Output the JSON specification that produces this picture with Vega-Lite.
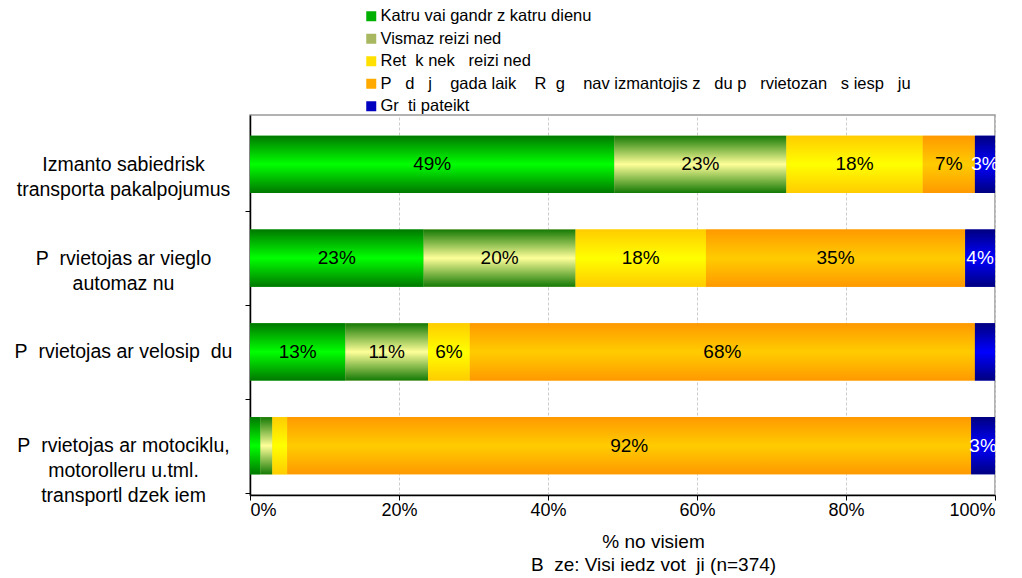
{
  "$schema": "https://vega.github.io/schema/vega-lite/v6.json",
  "autosize": {"type": "none"},
  "width": 745,
  "height": 380,
  "padding": {"left": 250, "top": 115, "right": 27, "bottom": 83},
  "background": "white",
  "config": {
    "view": {"stroke": "#999999", "strokeWidth": 1.5},
    "font": "Liberation Sans",
    "axis": {"domainColor": "#000000", "domainWidth": 1.5, "tickColor": "#000000", "tickWidth": 1, "labelColor": "#000000", "titleColor": "#000000"}
  },
  "data": {
    "values": [
      {"cat": "Izmanto sabiedrisk\u00a0\u00a0|transporta pakalpojumus", "resp": "Katru vai gandr\u00a0z katru dienu", "k": 1, "v": 48.9, "lab": "49%"},
      {"cat": "Izmanto sabiedrisk\u00a0\u00a0|transporta pakalpojumus", "resp": "Vismaz reizi ned", "k": 2, "v": 23.1, "lab": "23%"},
      {"cat": "Izmanto sabiedrisk\u00a0\u00a0|transporta pakalpojumus", "resp": "Ret\u00a0\u00a0k nek\u00a0\u00a0\u00a0reizi ned", "k": 3, "v": 18.3, "lab": "18%"},
      {"cat": "Izmanto sabiedrisk\u00a0\u00a0|transporta pakalpojumus", "resp": "P\u00a0\u00a0\u00a0d\u00a0\u00a0\u00a0j\u00a0\u00a0\u00a0\u00a0gada laik\u00a0\u00a0\u00a0\u00a0R\u00a0\u00a0g\u00a0\u00a0\u00a0\u00a0nav izmantojis z\u00a0\u00a0\u00a0du p\u00a0\u00a0\u00a0rvietozan\u00a0\u00a0\u00a0s iesp\u00a0\u00a0\u00a0ju", "k": 4, "v": 7.0, "lab": "7%"},
      {"cat": "Izmanto sabiedrisk\u00a0\u00a0|transporta pakalpojumus", "resp": "Gr\u00a0\u00a0ti pateikt", "k": 5, "v": 2.7, "lab": "3%"},
      {"cat": "P\u00a0\u00a0rvietojas ar vieglo|automaz\u00a0nu", "resp": "Katru vai gandr\u00a0z katru dienu", "k": 1, "v": 23.3, "lab": "23%"},
      {"cat": "P\u00a0\u00a0rvietojas ar vieglo|automaz\u00a0nu", "resp": "Vismaz reizi ned", "k": 2, "v": 20.4, "lab": "20%"},
      {"cat": "P\u00a0\u00a0rvietojas ar vieglo|automaz\u00a0nu", "resp": "Ret\u00a0\u00a0k nek\u00a0\u00a0\u00a0reizi ned", "k": 3, "v": 17.5, "lab": "18%"},
      {"cat": "P\u00a0\u00a0rvietojas ar vieglo|automaz\u00a0nu", "resp": "P\u00a0\u00a0\u00a0d\u00a0\u00a0\u00a0j\u00a0\u00a0\u00a0\u00a0gada laik\u00a0\u00a0\u00a0\u00a0R\u00a0\u00a0g\u00a0\u00a0\u00a0\u00a0nav izmantojis z\u00a0\u00a0\u00a0du p\u00a0\u00a0\u00a0rvietozan\u00a0\u00a0\u00a0s iesp\u00a0\u00a0\u00a0ju", "k": 4, "v": 34.8, "lab": "35%"},
      {"cat": "P\u00a0\u00a0rvietojas ar vieglo|automaz\u00a0nu", "resp": "Gr\u00a0\u00a0ti pateikt", "k": 5, "v": 4.0, "lab": "4%"},
      {"cat": "P\u00a0\u00a0rvietojas ar velosip\u00a0\u00a0du", "resp": "Katru vai gandr\u00a0z katru dienu", "k": 1, "v": 12.8, "lab": "13%"},
      {"cat": "P\u00a0\u00a0rvietojas ar velosip\u00a0\u00a0du", "resp": "Vismaz reizi ned", "k": 2, "v": 11.1, "lab": "11%"},
      {"cat": "P\u00a0\u00a0rvietojas ar velosip\u00a0\u00a0du", "resp": "Ret\u00a0\u00a0k nek\u00a0\u00a0\u00a0reizi ned", "k": 3, "v": 5.6, "lab": "6%"},
      {"cat": "P\u00a0\u00a0rvietojas ar velosip\u00a0\u00a0du", "resp": "P\u00a0\u00a0\u00a0d\u00a0\u00a0\u00a0j\u00a0\u00a0\u00a0\u00a0gada laik\u00a0\u00a0\u00a0\u00a0R\u00a0\u00a0g\u00a0\u00a0\u00a0\u00a0nav izmantojis z\u00a0\u00a0\u00a0du p\u00a0\u00a0\u00a0rvietozan\u00a0\u00a0\u00a0s iesp\u00a0\u00a0\u00a0ju", "k": 4, "v": 67.8, "lab": "68%"},
      {"cat": "P\u00a0\u00a0rvietojas ar velosip\u00a0\u00a0du", "resp": "Gr\u00a0\u00a0ti pateikt", "k": 5, "v": 2.7, "lab": ""},
      {"cat": "P\u00a0\u00a0rvietojas ar motociklu,|motorolleru u.tml.|transportl\u00a0dzek\u00a0iem", "resp": "Katru vai gandr\u00a0z katru dienu", "k": 1, "v": 1.4, "lab": ""},
      {"cat": "P\u00a0\u00a0rvietojas ar motociklu,|motorolleru u.tml.|transportl\u00a0dzek\u00a0iem", "resp": "Vismaz reizi ned", "k": 2, "v": 1.6, "lab": ""},
      {"cat": "P\u00a0\u00a0rvietojas ar motociklu,|motorolleru u.tml.|transportl\u00a0dzek\u00a0iem", "resp": "Ret\u00a0\u00a0k nek\u00a0\u00a0\u00a0reizi ned", "k": 3, "v": 2.0, "lab": ""},
      {"cat": "P\u00a0\u00a0rvietojas ar motociklu,|motorolleru u.tml.|transportl\u00a0dzek\u00a0iem", "resp": "P\u00a0\u00a0\u00a0d\u00a0\u00a0\u00a0j\u00a0\u00a0\u00a0\u00a0gada laik\u00a0\u00a0\u00a0\u00a0R\u00a0\u00a0g\u00a0\u00a0\u00a0\u00a0nav izmantojis z\u00a0\u00a0\u00a0du p\u00a0\u00a0\u00a0rvietozan\u00a0\u00a0\u00a0s iesp\u00a0\u00a0\u00a0ju", "k": 4, "v": 91.8, "lab": "92%"},
      {"cat": "P\u00a0\u00a0rvietojas ar motociklu,|motorolleru u.tml.|transportl\u00a0dzek\u00a0iem", "resp": "Gr\u00a0\u00a0ti pateikt", "k": 5, "v": 3.2, "lab": "3%"}
    ]
  },
  "transform": [
    {"stack": "v", "groupby": ["cat"], "sort": [{"field": "k", "order": "ascending"}], "as": ["x0", "x1"]},
    {"calculate": "(datum.x0 + datum.x1) / 2", "as": "xm"}
  ],
  "encoding": {
    "y": {
      "field": "cat", "type": "nominal",
      "sort": ["Izmanto sabiedrisk\u00a0\u00a0|transporta pakalpojumus", "P\u00a0\u00a0rvietojas ar vieglo|automaz\u00a0nu", "P\u00a0\u00a0rvietojas ar velosip\u00a0\u00a0du", "P\u00a0\u00a0rvietojas ar motociklu,|motorolleru u.tml.|transportl\u00a0dzek\u00a0iem"],
      "scale": {"paddingInner": 0.39, "paddingOuter": 0.22},
      "axis": {
        "title": null,
        "labelExpr": "split(datum.label, '|')",
        "labelAlign": "center",
        "labelBaseline": "middle",
        "labelFont": "Liberation Sans",
        "labelFontSize": 19.5,
        "labelLineHeight": 25,
        "labelLimit": 400,
        "labelPadding": 122,
        "tickSize": 5,
        "tickOffset": 46.9,
        "labelOffset": -46.9,
        "grid": false,
        "encode": {
          "labels": {
            "update": {
              "dx": {"signal": "indexof(datum.value, 'vieglo') >= 0 ? 20 : 0"}
            }
          }
        }
      }
    }
  },
  "layer": [
    {
      "mark": {"type": "bar"},
      "encoding": {
        "x": {
          "field": "x0", "type": "quantitative",
          "scale": {"domain": [0, 100], "nice": false},
          "axis": {
            "values": [0, 20, 40, 60, 80, 100],
            "labelExpr": "datum.value + '%'",
            "labelFont": "Liberation Sans",
            "labelFontSize": 18,
            "labelPadding": 1,
            "tickSize": 5,
            "grid": true,
            "gridColor": "#cccccc",
            "gridDash": [3, 2],
            "gridWidth": 1,
            "title": ["% no visiem", "B\u00a0\u00a0ze: Visi iedz\u00a0vot\u00a0\u00a0ji (n=374)"],
            "titleFont": "Liberation Sans",
            "titleFontSize": 19,
            "titleFontWeight": "normal",
            "titleLineHeight": 23,
            "titlePadding": 13,
            "titleX": 403
          }
        },
        "x2": {"field": "x1"},
        "color": {
          "field": "resp", "type": "nominal",
          "scale": {
            "domain": ["Katru vai gandr\u00a0z katru dienu", "Vismaz reizi ned", "Ret\u00a0\u00a0k nek\u00a0\u00a0\u00a0reizi ned", "P\u00a0\u00a0\u00a0d\u00a0\u00a0\u00a0j\u00a0\u00a0\u00a0\u00a0gada laik\u00a0\u00a0\u00a0\u00a0R\u00a0\u00a0g\u00a0\u00a0\u00a0\u00a0nav izmantojis z\u00a0\u00a0\u00a0du p\u00a0\u00a0\u00a0rvietozan\u00a0\u00a0\u00a0s iesp\u00a0\u00a0\u00a0ju", "Gr\u00a0\u00a0ti pateikt"],
            "range": ["#00b000", "#a8b860", "#ffe000", "#ffaa00", "#0000c0"]
          },
          "legend": {
            "orient": "none",
            "legendX": 113,
            "legendY": -107,
            "title": null,
            "padding": 0,
            "symbolType": "square",
            "symbolSize": 100,
            "symbolStrokeWidth": 0,
            "labelFont": "Liberation Sans",
            "labelFontSize": 16.5,
            "labelOffset": 1,
            "labelLimit": 700,
            "rowPadding": 5.5
          }
        }
      }
    },
    {
      "transform": [{"filter": "datum.k == 1"}],
      "mark": {"type": "bar", "color": {"gradient": "linear", "x1": 0, "y1": 0, "x2": 0, "y2": 1, "stops": [{"offset": 0, "color": "#007800"}, {"offset": 0.5, "color": "#00ff00"}, {"offset": 1, "color": "#007800"}]}},
      "encoding": {"x": {"field": "x0", "type": "quantitative"}, "x2": {"field": "x1"}}
    },
    {
      "transform": [{"filter": "datum.k == 2"}],
      "mark": {"type": "bar", "color": {"gradient": "linear", "x1": 0, "y1": 0, "x2": 0, "y2": 1, "stops": [{"offset": 0, "color": "#157a05"}, {"offset": 0.5, "color": "#ffff99"}, {"offset": 1, "color": "#157a05"}]}},
      "encoding": {"x": {"field": "x0", "type": "quantitative"}, "x2": {"field": "x1"}}
    },
    {
      "transform": [{"filter": "datum.k == 3"}],
      "mark": {"type": "bar", "color": {"gradient": "linear", "x1": 0, "y1": 0, "x2": 0, "y2": 1, "stops": [{"offset": 0, "color": "#ffcc00"}, {"offset": 0.5, "color": "#ffff00"}, {"offset": 1, "color": "#ffcc00"}]}},
      "encoding": {"x": {"field": "x0", "type": "quantitative"}, "x2": {"field": "x1"}}
    },
    {
      "transform": [{"filter": "datum.k == 4"}],
      "mark": {"type": "bar", "color": {"gradient": "linear", "x1": 0, "y1": 0, "x2": 0, "y2": 1, "stops": [{"offset": 0, "color": "#ff9900"}, {"offset": 0.5, "color": "#ffcc00"}, {"offset": 1, "color": "#ff9900"}]}},
      "encoding": {"x": {"field": "x0", "type": "quantitative"}, "x2": {"field": "x1"}}
    },
    {
      "transform": [{"filter": "datum.k == 5"}],
      "mark": {"type": "bar", "color": {"gradient": "linear", "x1": 0, "y1": 0, "x2": 0, "y2": 1, "stops": [{"offset": 0, "color": "#000080"}, {"offset": 0.5, "color": "#0000ff"}, {"offset": 1, "color": "#000080"}]}},
      "encoding": {"x": {"field": "x0", "type": "quantitative"}, "x2": {"field": "x1"}}
    },
    {
      "transform": [{"filter": "datum.lab != ''"}],
      "mark": {"type": "text", "font": "Liberation Sans", "fontSize": 19, "baseline": "middle", "align": "center"},
      "encoding": {
        "x": {"field": "xm", "type": "quantitative"},
        "text": {"field": "lab"},
        "color": {"condition": {"test": "datum.k == 5", "value": "#ffffff"}, "value": "#000000"}
      }
    }
  ]
}
